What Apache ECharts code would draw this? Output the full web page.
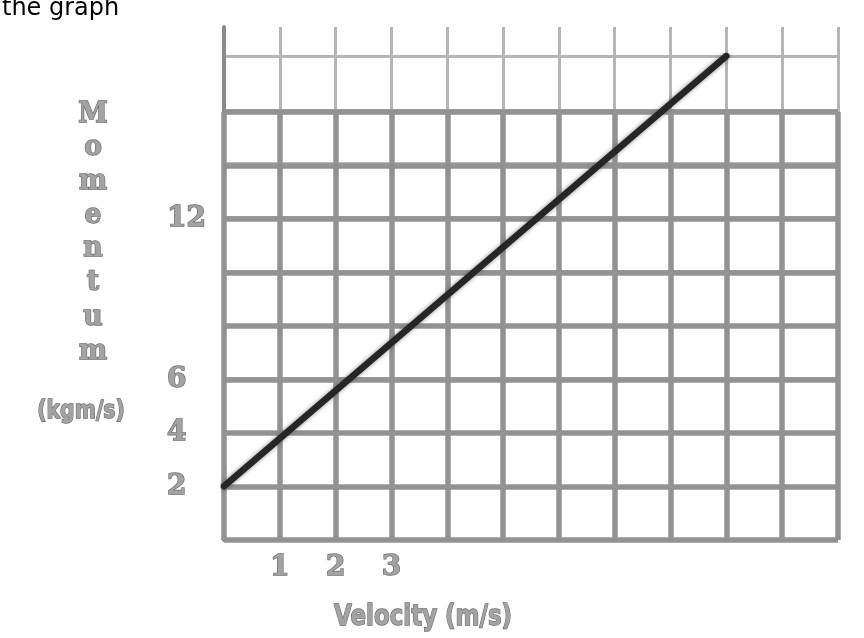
<!DOCTYPE html>
<html>
<head>
<meta charset="utf-8">
<script src="https://cdn.jsdelivr.net/npm/echarts@6/dist/echarts.min.js"></script>
<style>
html,body{margin:0;padding:0;background:#fff;}
#chart{width:864px;height:638px;}
</style>
</head>
<body>
<div id="chart"></div>
<script>
// Data
var velocity = [0, 9];          // m/s
var momentum = [2, 18];         // kg m/s
var yTickLabels = [2, 4, 6, 12];
var xTickLabels = [1, 2, 3];
var yTitleLetters = ['M', 'o', 'm', 'e', 'n', 't', 'u', 'm'];
var yTitleLetterY = [115, 148, 182, 216, 249, 283, 318, 352];
var yTitleUnit = '(kgm/s)';
var xTitle = 'Velocity (m/s)';
var heading = 'the graph';

var lineData = velocity.map(function (v, i) { return [v, momentum[i]]; });

var FILL = '#a3a3a3', EDGE = '#6e6e6e';

function tickLabel(list, extra) {
  var o = {
    show: true,
    formatter: function (v) { return list.indexOf(v) >= 0 ? String(v) : ''; },
    fontFamily: 'DejaVu Serif', fontWeight: 'bold', fontSize: 28,
    color: FILL, textBorderColor: EDGE, textBorderWidth: 1.4
  };
  for (var k in extra) o[k] = extra[k];
  return o;
}

var chart = echarts.init(document.getElementById('chart'), null, {renderer: 'canvas'});

var graphics = [];
graphics.push({
  type: 'text', left: 2, top: -3,
  style: {text: heading, font: '24px "DejaVu Sans"', fill: '#000'}
});
yTitleLetters.forEach(function (ch, i) {
  graphics.push({
    type: 'text', x: 93, y: yTitleLetterY[i], scaleX: 0.95,
    style: {
      text: ch, fill: FILL, stroke: EDGE, lineWidth: 1.4,
      font: 'bold 28px "DejaVu Serif"', align: 'center', verticalAlign: 'middle'
    }
  });
});
graphics.push({
  type: 'text', x: 81, y: 412, scaleX: 0.85,
  style: {
    text: yTitleUnit, fill: FILL, stroke: EDGE, lineWidth: 1.4,
    font: 'bold 24px "DejaVu Sans"', align: 'center', verticalAlign: 'middle'
  }
});
graphics.push({
  type: 'text', x: 423, y: 618, scaleX: 0.82,
  style: {
    text: xTitle, fill: FILL, stroke: EDGE, lineWidth: 1.4,
    font: 'bold 28px "DejaVu Sans"', align: 'center', verticalAlign: 'middle'
  }
});

var option = {
  animation: false,
  backgroundColor: '#ffffff',
  graphic: graphics,
  grid: [
    {left: 224, right: 26, top: 112, bottom: 98},   // main dark grid 0..16
    {left: 224, right: 26, top: 27, bottom: 98},    // light verticals up to top
    {left: 224, right: 26, top: 56, bottom: 98}     // light horizontal at 18
  ],
  xAxis: [
    {
      type: 'value', gridIndex: 0, min: 0, max: 11, interval: 1, z: 3,
      axisLine: {show: false}, axisTick: {show: false},
      splitLine: {show: true, lineStyle: {color: '#929292', width: 5.5}},
      axisLabel: tickLabel(xTickLabels, {margin: 14})
    },
    {
      type: 'value', gridIndex: 1, min: 0, max: 11, interval: 1, z: 1,
      axisLine: {show: false}, axisTick: {show: false}, axisLabel: {show: false},
      splitLine: {show: true, lineStyle: {color: '#b5b5b5', width: 3}}
    },
    {
      type: 'value', gridIndex: 2, min: 0, max: 11, interval: 1, z: 1,
      axisLine: {show: false}, axisTick: {show: false}, axisLabel: {show: false},
      splitLine: {show: false}
    }
  ],
  yAxis: [
    {
      type: 'value', gridIndex: 0, min: 0, max: 16, interval: 2, z: 3,
      axisLine: {show: false}, axisTick: {show: false},
      splitLine: {show: true, lineStyle: {color: '#929292', width: 5.5}},
      axisLabel: tickLabel(yTickLabels, {margin: 57, align: 'left'})
    },
    {
      type: 'value', gridIndex: 1, min: 0, max: 19.2, interval: 2, z: 1,
      axisLine: {show: true, onZero: false, lineStyle: {color: '#8a8a8a', width: 4}},
      axisTick: {show: false}, axisLabel: {show: false},
      splitLine: {show: false}
    },
    {
      type: 'value', gridIndex: 2, min: 0, max: 18, interval: 2, z: 1,
      axisLine: {show: false}, axisTick: {show: false}, axisLabel: {show: false},
      splitLine: {show: true, lineStyle: {color: '#b5b5b5', width: 3}}
    }
  ],
  series: [
    {
      type: 'line', xAxisIndex: 2, yAxisIndex: 2, z: 10,
      data: lineData, showSymbol: false, symbol: 'none',
      lineStyle: {
        color: '#262626', width: 6.5, cap: 'round',
        shadowColor: 'rgba(80,80,80,0.7)', shadowBlur: 4
      }
    }
  ]
};
chart.setOption(option);
</script>
</body>
</html>
